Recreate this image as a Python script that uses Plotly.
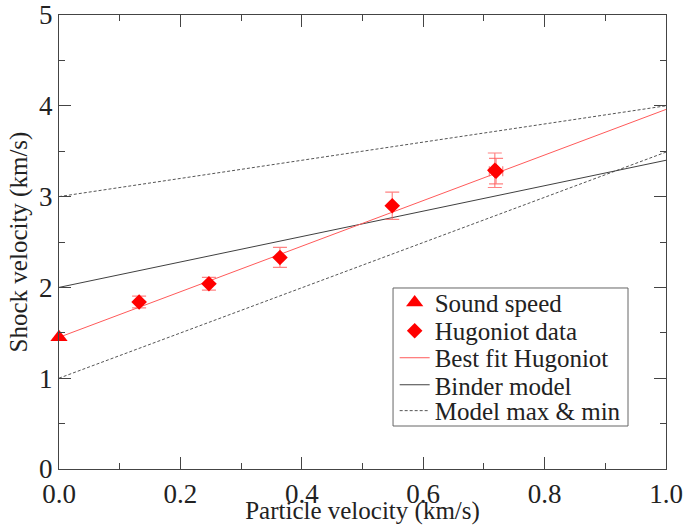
import plotly.graph_objects as go

# Sound speed at zero particle velocity
sound_x = [0.0]
sound_y = [1.45]

# Hugoniot measurements (particle velocity, shock velocity, errors)
hug_x = [0.132, 0.247, 0.364, 0.549, 0.718, 0.720]
hug_y = [1.84, 2.04, 2.33, 2.90, 3.29, 3.28]
hug_yerr = [0.065, 0.07, 0.11, 0.15, 0.19, 0.14]
hug_xerr = [0.0, 0.0, 0.0, 0.0, 0.0, 0.011]

# Straight-line models, evaluated at the ends of the axis
line_x = [0.0, 1.0]
fit_y = [1.45, 3.96]
binder_y = [2.0, 3.40]
model_max_y = [3.0, 4.0]
model_min_y = [1.0, 3.49]

FONT = "Liberation Serif"
TEXT_COLOR = "#222222"
DASH = "3px,2px"
AXIS_COLOR = "#444444"

# One single-entry legend per row so the rows can be packed tightly
LEGEND_X = 0.553
LEGEND_ROWS = [0.366, 0.304, 0.2445, 0.185, 0.128]

fig = go.Figure()

fig.add_trace(go.Scatter(
    x=line_x, y=model_max_y, mode="lines", name="Model max & min",
    line=dict(color="#555555", width=1, dash=DASH), legend="legend5"))
fig.add_trace(go.Scatter(
    x=line_x, y=model_min_y, mode="lines", showlegend=False,
    line=dict(color="#555555", width=1, dash=DASH)))
fig.add_trace(go.Scatter(
    x=line_x, y=binder_y, mode="lines", name="Binder model",
    line=dict(color="#404040", width=1), legend="legend4"))
fig.add_trace(go.Scatter(
    x=line_x, y=fit_y, mode="lines", name="Best fit Hugoniot",
    line=dict(color="#ff5a5a", width=1), legend="legend3"))
fig.add_trace(go.Scatter(
    x=hug_x, y=hug_y, mode="markers", name="Hugoniot data",
    marker=dict(symbol="diamond", size=12, color="#ff0000"),
    error_y=dict(type="data", array=hug_yerr, color="rgba(255,90,90,0.75)",
                 thickness=1.2, width=7),
    error_x=dict(type="data", array=hug_xerr, color="rgba(255,90,90,0.75)",
                 thickness=1.2, width=5),
    legend="legend2"))
fig.add_trace(go.Scatter(
    x=sound_x, y=sound_y, mode="markers", name="Sound speed",
    marker=dict(symbol="triangle-up", size=15, color="#ff0000"),
    cliponaxis=False, legend="legend"))

axis_common = dict(
    showline=True, linecolor=AXIS_COLOR, linewidth=1.2, mirror="ticks",
    ticks="inside", ticklen=12, tickwidth=1, tickcolor=AXIS_COLOR,
    showgrid=False, zeroline=False, automargin=False,
    ticklabeloverflow="allow",
    tickfont_family=FONT, tickfont_size=27,
)

fig.update_xaxes(
    range=[0, 1], dtick=0.2, tickformat=".1f",
    minor=dict(ticks="inside", ticklen=6, dtick=0.1, tickcolor=AXIS_COLOR),
    title=dict(text="Particle velocity (km/s)", standoff=0),
    title_font_family=FONT, title_font_size=25,
    **axis_common)
fig.update_yaxes(
    range=[0, 5], dtick=1,
    minor=dict(ticks="inside", ticklen=6, dtick=0.5, tickcolor=AXIS_COLOR),
    title=dict(text="Shock velocity (km/s)", standoff=4),
    title_font_family=FONT, title_font_size=25,
    **axis_common)

legend_style = dict(
    xanchor="left", yanchor="middle", x=LEGEND_X,
    bgcolor="rgba(0,0,0,0)", borderwidth=0,
    font=dict(family=FONT, size=25),
    itemwidth=30,
)
legends = {}
for i, row_y in enumerate(LEGEND_ROWS):
    key = "legend" if i == 0 else f"legend{i + 1}"
    legends[key] = dict(legend_style, y=row_y)

fig.update_layout(
    font=dict(family=FONT, color=TEXT_COLOR),
    width=685, height=525,
    margin=dict(l=59, r=19, t=15, b=56),
    paper_bgcolor="white", plot_bgcolor="white",
    showlegend=True,
    shapes=[dict(
        type="rect", xref="paper", yref="paper",
        x0=0.5503, x1=0.9374, y0=0.0947, y1=0.3987,
        line=dict(color="#666666", width=1), fillcolor="white", layer="below",
    )],
    **legends,
)

# Pin the serif face on every SVG text node once the figure is drawn
serif_script = """
var gd = document.getElementById('{plot_id}');
function applySerif() {
  gd.querySelectorAll('text').forEach(function (t) {
    t.style.setProperty('font-family', "'Liberation Serif'", 'important');
  });
}
applySerif();
gd.on('plotly_afterplot', applySerif);
setTimeout(applySerif, 30);
"""

fig.write_html("out.html", post_script=serif_script)
